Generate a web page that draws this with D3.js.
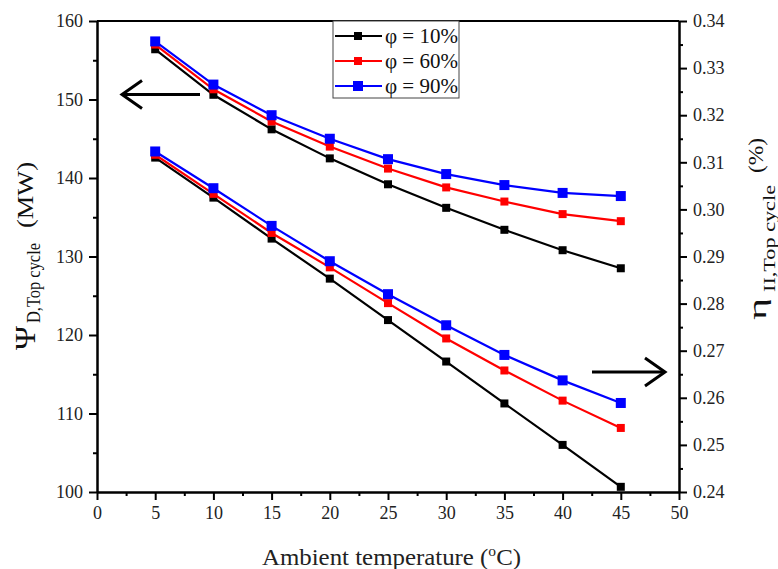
<!DOCTYPE html>
<html>
<head>
<meta charset="utf-8">
<script src="https://cdn.jsdelivr.net/npm/d3@7"></script>
<style>
  body { margin: 0; background: #fff; }
  svg text { font-family: "Liberation Serif", "Times New Roman", serif; }
  .axis path, .axis line { stroke: #000; stroke-width: 2; }
  .axis text { font-size: 18px; fill: #222; }
</style>
</head>
<body>
<script>
// ambient temperature (oC)
var temps = [5, 10, 15, 20, 25, 30, 35, 40, 45];
var seriesNames = ["φ = 10%", "φ = 60%", "φ = 90%"];
var seriesColors = ["#000000", "#ff0000", "#0000ff"];

// exergy destruction, top cycle (MW) - left axis
var psi10 = [156.4, 150.6, 146.2, 142.5, 139.2, 136.2, 133.4, 130.8, 128.5];
var psi60 = [157.0, 151.3, 147.2, 144.0, 141.2, 138.8, 137.0, 135.4, 134.5];
var psi90 = [157.4, 151.9, 148.0, 145.0, 142.4, 140.5, 139.1, 138.1, 137.7];

// second law efficiency, top cycle - right axis
var eta10 = [0.3110, 0.3025, 0.2938, 0.2853, 0.2765, 0.2677, 0.2588, 0.2500, 0.2411];
var eta60 = [0.3116, 0.3033, 0.2950, 0.2877, 0.2801, 0.2726, 0.2658, 0.2594, 0.2536];
var eta90 = [0.3123, 0.3045, 0.2965, 0.2890, 0.2820, 0.2754, 0.2691, 0.2637, 0.2589];

var psiSeries = [psi10, psi60, psi90];
var etaSeries = [eta10, eta60, eta90];

var W = 778, H = 569;
var margin = {left: 97, top: 21, right: 99, bottom: 77};
var iw = W - margin.left - margin.right, ih = H - margin.top - margin.bottom;
var serif = '"Liberation Serif", "Times New Roman", serif';

var svg = d3.select("body").append("svg").attr("width", W).attr("height", H);
var g = svg.append("g").attr("transform", "translate(" + margin.left + "," + margin.top + ")");

var x = d3.scaleLinear().domain([0, 50]).range([0, iw]);
var yL = d3.scaleLinear().domain([100, 160]).range([ih, 0]);
var yR = d3.scaleLinear().domain([0.24, 0.34]).range([ih, 0]);

function fixFont(sel) {
  sel.attr("font-family", serif).attr("font-size", 18);
}

// minor ticks first
g.append("g").attr("class", "axis").attr("transform", "translate(0," + ih + ")")
  .call(d3.axisBottom(x).tickValues(d3.range(2.5, 50, 5)).tickSize(4).tickFormat("").tickSizeOuter(0));
g.append("g").attr("class", "axis")
  .call(d3.axisLeft(yL).tickValues(d3.range(105, 160, 10)).tickSize(4).tickFormat("").tickSizeOuter(0));
g.append("g").attr("class", "axis").attr("transform", "translate(" + iw + ",0)")
  .call(d3.axisRight(yR).tickValues(d3.range(0.245, 0.34, 0.01)).tickSize(4).tickFormat("").tickSizeOuter(0));

// major axes
g.append("g").attr("class", "axis").attr("transform", "translate(0," + ih + ")")
  .call(d3.axisBottom(x).tickValues(d3.range(0, 51, 5)).tickSize(8).tickPadding(6).tickSizeOuter(0))
  .call(fixFont);
g.append("g").attr("class", "axis")
  .call(d3.axisLeft(yL).tickValues(d3.range(100, 161, 10)).tickSize(8).tickPadding(6).tickSizeOuter(0))
  .call(fixFont);
g.append("g").attr("class", "axis").attr("transform", "translate(" + iw + ",0)")
  .call(d3.axisRight(yR).tickValues(d3.range(0.24, 0.3401, 0.01)).tickSize(8).tickPadding(6)
    .tickFormat(d3.format(".2f")).tickSizeOuter(0))
  .call(fixFont);

// top border
g.append("line").attr("x1", 0).attr("x2", iw).attr("y1", 0).attr("y2", 0)
  .attr("stroke", "#000").attr("stroke-width", 2);

function drawSeries(data, yScale, i) {
  var pts = temps.map((t, k) => [t, data[k]]);
  var line = d3.line().x(d => x(d[0])).y(d => yScale(d[1]));
  g.append("path").datum(pts).attr("d", line)
    .attr("fill", "none").attr("stroke", seriesColors[i]).attr("stroke-width", 2.2);
  var s = i == 2 ? 10 : 8;
  g.selectAll(null).data(pts).enter().append("rect")
    .attr("x", d => x(d[0]) - s / 2).attr("y", d => yScale(d[1]) - s / 2)
    .attr("width", s).attr("height", s).attr("fill", seriesColors[i]);
}

psiSeries.forEach((d, i) => drawSeries(d, yL, i));
etaSeries.forEach((d, i) => drawSeries(d, yR, i));

// legend
var lg = svg.append("g").attr("transform", "translate(333,21)");
lg.append("rect").attr("x", 0).attr("y", 0).attr("width", 126).attr("height", 77)
  .attr("fill", "#fff").attr("stroke", "#444").attr("stroke-width", 1);
seriesNames.forEach((name, i) => {
  var yy = 15 + i * 25;
  lg.append("line").attr("x1", 2).attr("x2", 49).attr("y1", yy).attr("y2", yy)
    .attr("stroke", seriesColors[i]).attr("stroke-width", 2.2);
  var s = i == 2 ? 10 : 8;
  lg.append("rect").attr("x", 25 - s / 2).attr("y", yy - s / 2).attr("width", s).attr("height", s)
    .attr("fill", seriesColors[i]);
  lg.append("text").attr("x", 52).attr("y", yy + 7).attr("font-size", 21).attr("fill", "#111").text(name);
});

// arrows
function arrow(x1, x2, yy) {
  var dir = x2 > x1 ? 1 : -1;
  svg.append("line").attr("x1", x1).attr("x2", x2 - dir * 2).attr("y1", yy).attr("y2", yy)
    .attr("stroke", "#000").attr("stroke-width", 3);
  svg.append("path")
    .attr("d", "M" + (x2 - dir * 20) + "," + (yy - 14) + "L" + x2 + "," + yy + "L" + (x2 - dir * 20) + "," + (yy + 14))
    .attr("fill", "none").attr("stroke", "#000").attr("stroke-width", 3);
}
arrow(200, 122, 94.5);
arrow(592, 665, 372);

// axis titles
svg.append("text").attr("x", 262).attr("y", 565)
  .attr("font-size", 24).attr("fill", "#222").attr("textLength", 259).attr("lengthAdjust", "spacingAndGlyphs")
  .html('Ambient temperature (<tspan dy="-9" font-size="15">o</tspan><tspan dy="9">C)</tspan>');

// rotated label pieces: text, baseline x, start y, font size, length
function vlabel(txt, bx, sy, fs, len) {
  svg.append("text").attr("transform", "translate(" + bx + "," + sy + ") rotate(-90)")
    .attr("font-size", fs).attr("fill", "#111")
    .attr("textLength", len).attr("lengthAdjust", "spacingAndGlyphs").text(txt);
}
vlabel("Ψ", 35, 350, 30, 24);
vlabel("D,Top cycle", 40, 323, 18, 80);
vlabel("(MW)", 33, 228, 24, 66);

vlabel("η", 766, 320, 26, 22);
vlabel("II,Top cycle", 775, 292, 17, 107);
vlabel("(%)", 763, 173, 22, 35);
</script>
</body>
</html>
